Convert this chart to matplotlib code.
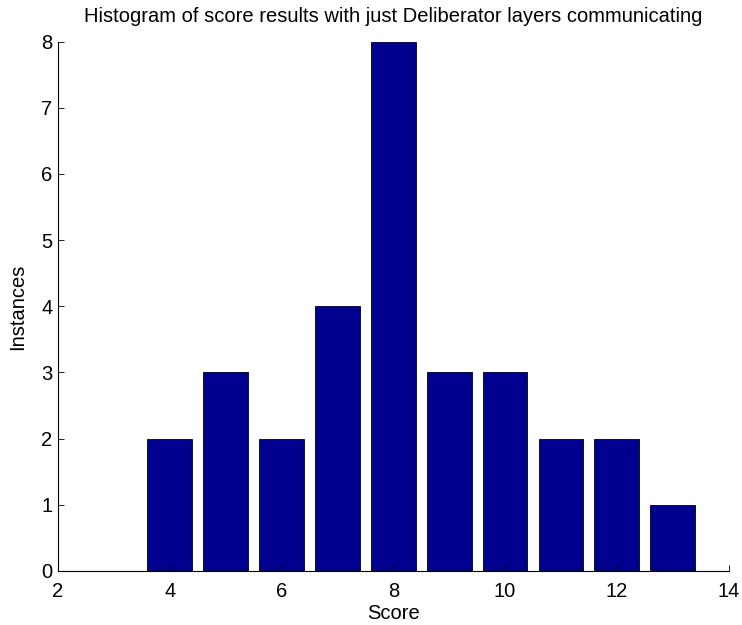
import matplotlib
matplotlib.use("Agg")
from matplotlib import pyplot as plt

scores = [4, 5, 6, 7, 8, 9, 10, 11, 12, 13]
instances = [2, 3, 2, 4, 8, 3, 3, 2, 2, 1]
x_ticks = [2, 4, 6, 8, 10, 12, 14]
y_ticks = [0, 1, 2, 3, 4, 5, 6, 7, 8]

plt.rcParams['font.family'] = ['Liberation Sans', 'DejaVu Sans']

fig = plt.figure(figsize=(7.42, 6.25), dpi=100)
ax = fig.add_axes([0.078, 0.0864, 0.904, 0.847])

ax.bar(scores, instances, width=0.8, color='#00008F', edgecolor='black', linewidth=0.6)

ax.set_xlim(2, 14)
ax.set_ylim(0, 8)
ax.set_xticks(x_ticks)
ax.set_yticks(y_ticks)
ax.tick_params(direction='in', length=4, labelsize=14.5, width=0.6)
ax.tick_params(axis='x', pad=8)
ax.tick_params(axis='y', pad=4)
ax.spines['top'].set_visible(False)
ax.spines['right'].set_visible(False)
for s in ('left', 'bottom'):
    ax.spines[s].set_linewidth(0.8)

ax.set_xlabel('Score', fontsize=14.5, labelpad=2)
ax.set_ylabel('Instances', fontsize=14.5, labelpad=10)
ax.set_title('Histogram of score results with just Deliberator layers communicating', fontsize=14.5, pad=14)

fig.savefig('out.png', dpi=100)
